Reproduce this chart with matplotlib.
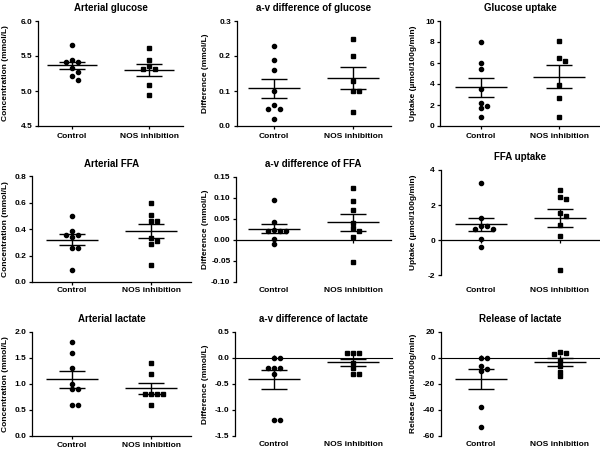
import numpy as np
import matplotlib
matplotlib.use("Agg")
import matplotlib.pyplot as plt
from matplotlib.ticker import FormatStrFormatter

plt.rcParams['font.family'] = ['Liberation Sans', 'DejaVu Sans']
plt.rcParams['font.weight'] = 'bold'
plt.rcParams['axes.unicode_minus'] = False

groups = ['Control', 'NOS inhibition']

# values (one list per group and panel)
art_glucose_ctrl = [5.66, 5.44, 5.42, 5.42, 5.33, 5.27, 5.22, 5.16]
art_glucose_nos = [5.62, 5.44, 5.36, 5.32, 5.31, 5.08, 4.94]
av_glucose_ctrl = [0.23, 0.19, 0.16, 0.10, 0.06, 0.05, 0.05, 0.02]
av_glucose_nos = [0.25, 0.20, 0.13, 0.10, 0.10, 0.04]
glucose_uptake_ctrl = [8.03, 5.97, 5.40, 3.56, 2.16, 1.90, 1.68, 0.83]
glucose_uptake_nos = [8.10, 6.50, 6.16, 3.87, 2.63, 0.89]

art_ffa_ctrl = [0.50, 0.39, 0.36, 0.36, 0.34, 0.26, 0.26, 0.09]
art_ffa_nos = [0.60, 0.51, 0.46, 0.46, 0.335, 0.31, 0.287, 0.127]
av_ffa_ctrl = [0.095, 0.042, 0.024, 0.02, 0.02, 0.02, 0.002, -0.010]
av_ffa_nos = [0.123, 0.091, 0.071, 0.040, 0.028, 0.020, 0.007, -0.052]
ffa_uptake_ctrl = [3.24, 1.28, 0.82, 0.82, 0.63, 0.63, 0.08, -0.40]
ffa_uptake_nos = [2.84, 2.44, 2.32, 1.54, 1.39, 0.84, 0.25, -1.71]

art_lactate_ctrl = [1.8, 1.6, 1.3, 1.0, 0.9, 0.9, 0.6, 0.6]
art_lactate_nos = [1.4, 1.2, 0.8, 0.8, 0.8, 0.8, 0.6]
av_lactate_ctrl = [0.0, 0.0, -0.2, -0.2, -0.2, -0.3, -1.2, -1.2]
av_lactate_nos = [0.1, 0.1, 0.1, -0.1, -0.2, -0.3, -0.3]
lactate_release_ctrl = [0.0, 0.0, -6.4, -8.7, -10.2, -37.6, -52.9]
lactate_release_nos = [4.6, 3.3, 2.6, -2.6, -6.1, -10.7, -14.1]

titles = ['Arterial glucose', 'a-v difference of glucose', 'Glucose uptake',
          'Arterial FFA', 'a-v difference of FFA', 'FFA uptake',
          'Arterial lactate', 'a-v difference of lactate', 'Release of lactate']
ylabels = ['Concentration (mmol/L)', 'Difference (mmol/L)', 'Uptake (\u00b5mol/100g/min)',
           'Concentration (mmol/L)', 'Difference (mmol/L)', 'Uptake (\u00b5mol/100g/min)',
           'Concentration (mmol/L)', 'Difference (mmol/L)', 'Release (\u00b5mol/100g/min)']
yticks = [[4.5, 5.0, 5.5, 6.0], [0.0, 0.1, 0.2, 0.3], [0, 2, 4, 6, 8, 10],
          [0.0, 0.2, 0.4, 0.6, 0.8], [-0.10, -0.05, 0.00, 0.05, 0.10, 0.15], [-2, 0, 2, 4],
          [0.0, 0.5, 1.0, 1.5, 2.0], [-1.5, -1.0, -0.5, 0.0, 0.5], [-60, -40, -20, 0, 20]]
formats = ['%.1f', '%.1f', '%d', '%.1f', '%.2f', '%d', '%.1f', '%.1f', '%d']
panel_data = [(art_glucose_ctrl, art_glucose_nos), (av_glucose_ctrl, av_glucose_nos),
              (glucose_uptake_ctrl, glucose_uptake_nos), (art_ffa_ctrl, art_ffa_nos),
              (av_ffa_ctrl, av_ffa_nos), (ffa_uptake_ctrl, ffa_uptake_nos),
              (art_lactate_ctrl, art_lactate_nos), (av_lactate_ctrl, av_lactate_nos),
              (lactate_release_ctrl, lactate_release_nos)]

# layout in pixels: spine x, top, bottom, control x, nos x, tick label y, ylabel right edge x
layout = [(38, 21, 126, 72, 149, 136, 9), (236.5, 21, 126, 274, 353, 136, 209), (440, 21, 126, 481, 559, 136, 417),
          (32, 176.5, 282, 72, 151, 290, 9), (236, 176.5, 282, 274, 353, 290, 209), (440.5, 170, 275, 481, 560, 291, 417),
          (32, 332, 436, 72, 151, 445, 9), (235, 332, 436, 274, 353, 445, 209), (440.5, 331.5, 436, 481, 560, 445, 417)]

W, H = 600, 450
PX2PT = 72 / 100


def swarm_offsets(values, ylim, height_px, spacing_px, diam=4.4):
    """simple beeswarm: spread points sideways when they would overlap"""
    scale = height_px / (ylim[1] - ylim[0])
    placed = []
    offs = np.zeros(len(values))
    for i in np.argsort(values)[::-1]:
        y = values[i] * scale
        for k in [0, 1, -1, 2, -2, 3, -3, 4, -4]:
            x = k * diam * 1.4
            if all((x - px) ** 2 + (y - py) ** 2 >= diam ** 2 for px, py in placed):
                break
        placed.append((x, y))
        offs[i] = x / spacing_px
    return offs


fig = plt.figure(figsize=(6, 4.5), dpi=100)

for p in range(9):
    left, top, bottom, cx, nx, lab_y, ylab_x = layout[p]
    spacing = nx - cx
    a = (cx - left) / spacing
    width = spacing * (1 + 2 * a)
    ax = fig.add_axes([left / W, 1 - bottom / H, width / W, (bottom - top) / H])
    ticks = yticks[p]
    ylim = (ticks[0], ticks[-1])
    ax.set_xlim(-a, 1 + a)
    ax.set_ylim(*ylim)

    for g, vals in enumerate(panel_data[p]):
        vals = np.array(vals)
        offs = swarm_offsets(vals, ylim, bottom - top, spacing)
        marker = 'o' if g == 0 else 's'
        ax.plot(g + offs, vals, linestyle='none', marker=marker, ms=3.0 if g == 0 else 2.8,
                color='black', zorder=3, clip_on=False)
        m = vals.mean()
        sem = vals.std(ddof=1) / np.sqrt(len(vals))
        ax.hlines(m, g - 0.33, g + 0.33, color='black', lw=1.0)
        ax.hlines([m - sem, m + sem], g - 0.17, g + 0.17, color='black', lw=1.0)
        ax.vlines(g, m - sem, m + sem, color='black', lw=1.0)

    ax.set_title(titles[p], fontsize=7, fontweight='bold', pad=7)
    ax.set_ylabel(ylabels[p], fontsize=6, fontweight='bold')
    ax.yaxis.set_label_coords((ylab_x - left) / width, 0.5)
    ax.set_yticks(ticks)
    ax.yaxis.set_major_formatter(FormatStrFormatter(formats[p]))
    ax.set_xticks([0, 1])
    ax.set_xticklabels(groups)
    for side in ['top', 'right']:
        ax.spines[side].set_visible(False)
    ax.spines['left'].set_linewidth(0.9)
    ax.tick_params(axis='y', labelsize=6, length=2.5, width=0.9, pad=1.5)

    gap = (lab_y - bottom - 3.5) * PX2PT
    if ylim[0] < 0:
        # x axis drawn at zero, labels kept at the bottom
        ax.spines['bottom'].set_visible(False)
        ax.tick_params(axis='x', labelsize=6, length=0, pad=gap)
        zero_ax = ax.secondary_xaxis((0 - ylim[0]) / (ylim[1] - ylim[0]))
        zero_ax.set_xticks([0, 1])
        zero_ax.set_xticklabels(['', ''])
        zero_ax.spines['bottom'].set_linewidth(0.9)
        zero_ax.tick_params(axis='x', length=2.5, width=0.9)
    else:
        ax.spines['bottom'].set_linewidth(0.9)
        ax.tick_params(axis='x', labelsize=6, length=2.5, width=0.9, pad=gap - 1.8)

fig.savefig('out.png', dpi=100)
